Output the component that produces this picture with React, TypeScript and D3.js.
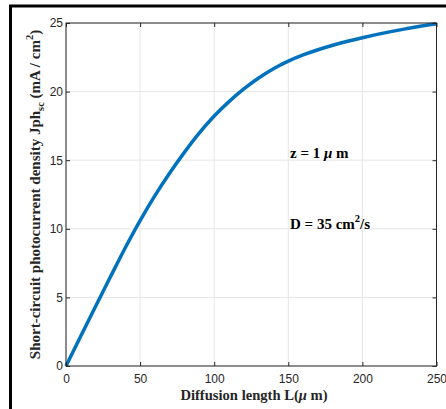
import React, { useEffect, useRef } from "react";
import * as d3 from "d3";

// diffusion length L (um) and short-circuit photocurrent density (mA/cm2)
const lengths = [0, 10, 20, 30, 40, 50, 60, 70, 80, 90, 100, 110, 120, 130, 140, 150, 160, 170, 180, 190, 200, 210, 220, 230, 240, 250];
const jph = [0, 2.18, 4.35, 6.5, 8.62, 10.6, 12.42, 14.07, 15.59, 16.99, 18.22, 19.27, 20.19, 20.99, 21.67, 22.22, 22.67, 23.05, 23.38, 23.67, 23.93, 24.17, 24.39, 24.59, 24.78, 24.95];

const xTicks = [0, 50, 100, 150, 200, 250];
const yTicks = [0, 5, 10, 15, 20, 25];

export default function App() {
  const ref = useRef<SVGSVGElement>(null);

  useEffect(() => {
    const width = 446;
    const height = 409;
    const margin = { top: 23, right: 9.5, bottom: 43, left: 66 };
    const axisColor = "#262626";
    const serif = "'Liberation Serif', 'Times New Roman', serif";
    const sans = "'Liberation Sans', Arial, sans-serif";

    const svg = d3.select(ref.current);
    svg.selectAll("*").remove();

    svg
      .append("rect")
      .attr("width", width)
      .attr("height", height)
      .attr("fill", "white");

    // outer figure frame
    svg
      .append("rect")
      .attr("x", 10.5)
      .attr("y", 6)
      .attr("width", 600)
      .attr("height", 600)
      .attr("fill", "none")
      .attr("stroke", "black")
      .attr("stroke-width", 3);

    const x = d3
      .scaleLinear()
      .domain([0, 250])
      .range([margin.left, width - margin.right]);

    const y = d3
      .scaleLinear()
      .domain([0, 25])
      .range([height - margin.bottom, margin.top]);

    const data = lengths.map((l, i) => ({ l, j: jph[i] }));

    // grid
    const grid = svg.append("g").attr("stroke", "#e6e6e6").attr("stroke-width", 1);
    grid
      .selectAll("line.vx")
      .data(xTicks)
      .join("line")
      .attr("x1", d => x(d))
      .attr("x2", d => x(d))
      .attr("y1", y(0))
      .attr("y2", y(25));
    grid
      .selectAll("line.hy")
      .data(yTicks)
      .join("line")
      .attr("class", "hy")
      .attr("x1", x(0))
      .attr("x2", x(250))
      .attr("y1", d => y(d))
      .attr("y2", d => y(d));

    // curve
    svg
      .append("path")
      .datum(data)
      .attr("fill", "none")
      .attr("stroke", "#0072BD")
      .attr("stroke-width", 3.5)
      .attr(
        "d",
        d3
          .line<{ l: number; j: number }>()
          .x(d => x(d.l))
          .y(d => y(d.j))
          .curve(d3.curveCatmullRom)
      );

    const styleAxis = g => {
      g.select(".domain").remove();
      g.selectAll("line").attr("stroke", axisColor);
      g.selectAll("text")
        .attr("fill", axisColor)
        .attr("font-family", sans)
        .attr("font-size", 12);
    };

    svg
      .append("g")
      .attr("transform", `translate(0,${y(0)})`)
      .call(d3.axisBottom(x).tickValues(xTicks).tickSizeInner(-4).tickSizeOuter(0).tickPadding(8))
      .call(styleAxis);

    svg
      .append("g")
      .attr("transform", `translate(0,${y(25)})`)
      .call(d3.axisTop(x).tickValues(xTicks).tickFormat(() => "").tickSizeInner(-4).tickSizeOuter(0))
      .call(styleAxis);

    svg
      .append("g")
      .attr("transform", `translate(${x(0)},0)`)
      .call(d3.axisLeft(y).tickValues(yTicks).tickSizeInner(-4).tickSizeOuter(0).tickPadding(3))
      .call(styleAxis);

    svg
      .append("g")
      .attr("transform", `translate(${x(250)},0)`)
      .call(d3.axisRight(y).tickValues(yTicks).tickFormat(() => "").tickSizeInner(-4).tickSizeOuter(0))
      .call(styleAxis);

    // axes box
    svg
      .append("rect")
      .attr("x", x(0))
      .attr("y", y(25))
      .attr("width", x(250) - x(0))
      .attr("height", y(0) - y(25))
      .attr("fill", "none")
      .attr("stroke", axisColor)
      .attr("stroke-width", 1);

    // x label
    const xl = svg
      .append("text")
      .attr("x", 254)
      .attr("y", 400)
      .attr("text-anchor", "middle")
      .attr("font-family", serif)
      .attr("font-weight", "bold")
      .attr("font-size", 14.6)
      .attr("fill", axisColor);
    xl.append("tspan").text("Diffusion length L(");
    xl.append("tspan").attr("font-style", "italic").text("μ");
    xl.append("tspan").text(" m)");

    // y label
    const yl = svg
      .append("text")
      .attr("transform", `translate(39.5,194.5) rotate(-90)`)
      .attr("text-anchor", "middle")
      .attr("font-family", serif)
      .attr("font-weight", "bold")
      .attr("font-size", 15)
      .attr("fill", axisColor);
    yl.append("tspan").text("Short-circuit photocurrent density Jph");
    yl.append("tspan").attr("font-size", 10.5).attr("dy", 4).text("sc");
    yl.append("tspan").attr("dy", -4).text(" (mA / cm");
    yl.append("tspan").attr("font-size", 10.5).attr("dy", -7).text("2");
    yl.append("tspan").attr("dy", 7).text(")");

    // annotations
    const t1 = svg
      .append("text")
      .attr("x", 290)
      .attr("y", 158)
      .attr("font-family", serif)
      .attr("font-weight", "bold")
      .attr("font-size", 15)
      .attr("fill", "black");
    t1.append("tspan").text("z = 1 ");
    t1.append("tspan").attr("font-style", "italic").text("μ");
    t1.append("tspan").text(" m");

    const t2 = svg
      .append("text")
      .attr("x", 290)
      .attr("y", 229)
      .attr("font-family", serif)
      .attr("font-weight", "bold")
      .attr("font-size", 15)
      .attr("fill", "black");
    t2.append("tspan").text("D = 35 cm");
    t2.append("tspan").attr("font-size", 10.5).attr("dy", -7).text("2");
    t2.append("tspan").attr("dy", 7).text("/s");
  }, []);

  return (
    <svg
      ref={ref}
      width={446}
      height={409}
      style={{ position: "absolute", left: 0, top: 0 }}
    />
  );
}
